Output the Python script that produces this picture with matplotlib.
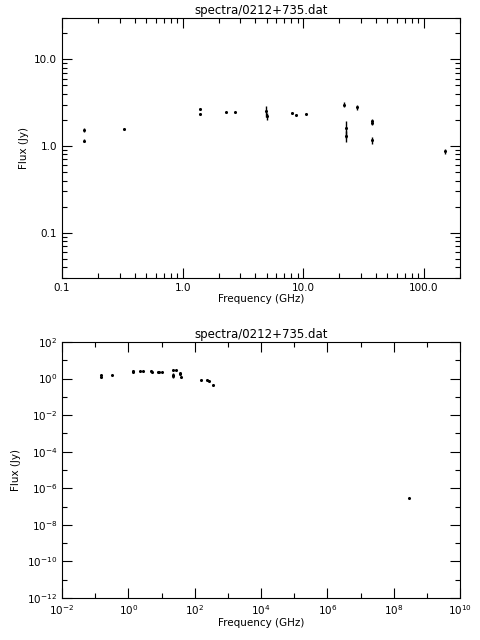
import numpy as np
import matplotlib
matplotlib.use('Agg')
import matplotlib.pyplot as plt
from matplotlib.ticker import FixedLocator, FixedFormatter, LogLocator, NullFormatter

# spectrum of 0212+735 (GHz, Jy)
freq = [0.151, 0.151, 0.325, 1.4, 1.4, 2.3, 2.7, 4.9, 5.0, 8.1, 8.7, 10.6,
        22.0, 22.5, 22.5, 28.0, 37.0, 37.0, 37.5, 150.0, 230.0, 270.0, 350.0, 3.0e8]
flux = [1.54, 1.15, 1.57, 2.7, 2.36, 2.45, 2.45, 2.54, 2.22, 2.4, 2.3, 2.36,
        3.0, 1.6, 1.3, 2.8, 1.85, 1.95, 1.16, 0.87, 0.85, 0.7, 0.45, 3.0e-7]
err = [0.08, 0.05, 0.04, 0.08, 0.06, 0.04, 0.04, 0.35, 0.2, 0.05, 0.05, 0.04,
       0.2, 0.35, 0.2, 0.2, 0.12, 0.1, 0.1, 0.06, 0.05, 0.05, 0.05, 0.0]

plt.rcParams['font.family'] = 'DejaVu Sans'
plt.rcParams['font.size'] = 7.5

fig = plt.figure(figsize=(4.8, 6.4), dpi=100)
W, H = 480.0, 640.0
ax1 = fig.add_axes([62 / W, 1 - 278 / H, 398 / W, 260 / H])
ax2 = fig.add_axes([62 / W, 1 - 598 / H, 398 / W, 256 / H])

for ax in (ax1, ax2):
    ax.errorbar(freq, flux, yerr=err, fmt='o', ms=1.2, color='black',
                elinewidth=1, capsize=0)
    ax.set_xscale('log')
    ax.set_yscale('log')
    ax.tick_params(which='both', direction='in', top=True, right=True, width=0.8)
    ax.tick_params(which='major', length=7)
    ax.tick_params(which='minor', length=3.5)
    ax.set_title('spectra/0212+735.dat', fontsize=8.5, pad=3)
    ax.set_xlabel('Frequency (GHz)', labelpad=1)
    ax.set_ylabel('Flux (Jy)')

ax1.set_xlim(0.1, 200)
ax1.set_ylim(0.03, 30)
ax1.xaxis.set_major_locator(FixedLocator([0.1, 1, 10, 100]))
ax1.xaxis.set_major_formatter(FixedFormatter(['0.1', '1.0', '10.0', '100.0']))
ax1.yaxis.set_major_locator(FixedLocator([0.1, 1, 10]))
ax1.yaxis.set_major_formatter(FixedFormatter(['0.1', '1.0', '10.0']))
for a in (ax1.xaxis, ax1.yaxis):
    a.set_minor_locator(LogLocator(base=10, subs=np.arange(2, 10)))
    a.set_minor_formatter(NullFormatter())

ax2.set_xlim(1e-2, 1e10)
ax2.set_ylim(1e-12, 1e2)
xt = [10.0 ** k for k in range(-2, 11, 2)]
yt = [10.0 ** k for k in range(-12, 3, 2)]
ax2.xaxis.set_major_locator(FixedLocator(xt))
ax2.xaxis.set_major_formatter(FixedFormatter(['$10^{%d}$' % k for k in range(-2, 11, 2)]))
ax2.yaxis.set_major_locator(FixedLocator(yt))
ax2.yaxis.set_major_formatter(FixedFormatter(['$10^{%d}$' % k for k in range(-12, 3, 2)]))
ax2.xaxis.set_minor_locator(FixedLocator([10.0 ** k for k in range(-1, 10, 2)]))
ax2.yaxis.set_minor_locator(FixedLocator([10.0 ** k for k in range(-11, 2, 2)]))
for a in (ax2.xaxis, ax2.yaxis):
    a.set_minor_formatter(NullFormatter())

fig.savefig('out.png', dpi=100)
